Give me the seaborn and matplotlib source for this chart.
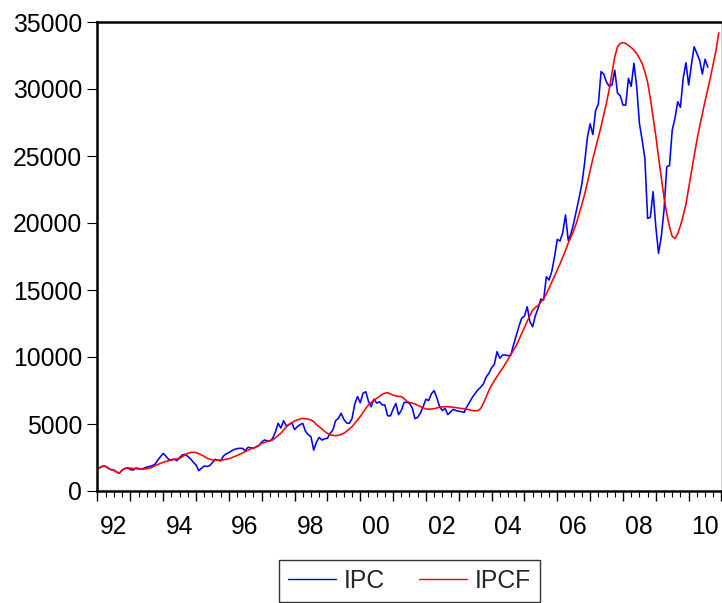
import numpy as np
import pandas as pd
import matplotlib
matplotlib.use("Agg")
import matplotlib.pyplot as plt
import matplotlib.ticker as mticker
from matplotlib.transforms import ScaledTranslation
import seaborn as sns

# ---- data (monthly, starting 1992M01) ----
start_year = 1992
ipc = [
    # 1992
    1640, 1760, 1860, 1840, 1700, 1590, 1550, 1420, 1320, 1560, 1680, 1740,
    # 1993
    1600, 1560, 1720, 1680, 1620, 1700, 1780, 1830, 1890, 2000, 2300, 2560,
    # 1994
    2810, 2600, 2350, 2330, 2380, 2260, 2500, 2690, 2740, 2580, 2400, 2150,
    # 1995
    1940, 1520, 1700, 1870, 1830, 1900, 2120, 2360, 2300, 2250, 2600, 2770,
    # 1996
    2860, 3000, 3100, 3160, 3190, 3180, 3010, 3260, 3220, 3190, 3300, 3400,
    # 1997
    3650, 3810, 3750, 3710, 3930, 4400, 5050, 4700, 5250, 4850, 4950, 5100,
    # 1998
    4580, 4800, 4950, 5050, 4450, 4200, 4050, 3050, 3650, 4000, 3800, 3900,
    # 1999
    3930, 4300, 4550, 5250, 5420, 5800, 5350, 5080, 5050, 5400, 6500, 7050,
    # 2000
    6580, 7290, 7410, 6700, 6290, 6850, 6560, 6660, 6430, 6420, 5620, 5600,
    # 2001
    6100, 6540, 5700, 6000, 6600, 6620, 6540, 6200, 5400, 5500, 5820, 6300,
    # 2002
    6850, 6750, 7250, 7490, 6950, 6300, 6000, 6170, 5700, 5900, 6100, 6000,
    # 2003
    5950, 5920, 5870, 6300, 6650, 7000, 7290, 7550, 7740, 7990, 8500, 8780,
    # 2004
    9200, 9450, 10400, 9900, 10150, 10150, 10100, 10150, 10900, 11600, 12300, 12900,
    # 2005
    13060, 13750, 12630, 12260, 13100, 13630, 14330, 14250, 15990, 15750, 16400, 17500,
    # 2006
    18780, 18650, 19300, 20600, 18700, 19200, 20000, 20950, 21900, 22950, 24500, 26400,
    # 2007
    27400, 26600, 28400, 28880, 31300, 31100, 30500, 30200, 30300, 31400, 29700, 29500,
    # 2008
    28800, 28800, 30800, 30200, 31920, 30200, 27450, 26200, 24830, 20350, 20420, 22340,
    # 2009
    19720, 17740, 18980, 20970, 24200, 24280, 26940, 27810, 29050, 28630, 30800, 31960,
    # 2010
    30300, 31790, 33160, 32660, 32160, 31120, 32220, 31620,
]

ipcf = [
    # 1992
    1640, 1760, 1860, 1840, 1700, 1590, 1550, 1420, 1320, 1560, 1680, 1740,
    # 1993
    1700, 1680, 1660, 1640, 1620, 1640, 1670, 1700, 1780, 1880, 1980, 2060,
    # 1994
    2140, 2200, 2260, 2310, 2360, 2400, 2440, 2560, 2700, 2800, 2880, 2890,
    # 1995
    2870, 2780, 2690, 2580, 2450, 2380, 2320, 2300, 2300, 2310, 2330, 2370,
    # 1996
    2410, 2480, 2570, 2650, 2740, 2840, 2940, 3040, 3140, 3200, 3300, 3400,
    # 1997
    3560, 3620, 3700, 3760, 3810, 3980, 4150, 4310, 4550, 4780, 4980, 5100,
    # 1998
    5220, 5300, 5370, 5420, 5400, 5360, 5300, 5180, 4950, 4800, 4620, 4450,
    # 1999
    4300, 4200, 4150, 4130, 4160, 4220, 4310, 4450, 4620, 4800, 5050, 5300,
    # 2000
    5550, 5850, 6150, 6420, 6600, 6780, 6910, 7050, 7200, 7300, 7340, 7250,
    # 2001
    7160, 7100, 7060, 7040, 6900, 6700, 6600, 6560, 6500, 6400, 6300, 6200,
    # 2002
    6120, 6110, 6120, 6140, 6200, 6250, 6280, 6290, 6290, 6270, 6250, 6220,
    # 2003
    6190, 6160, 6130, 6100, 6050, 6000, 5990, 6000, 6150, 6550, 7000, 7500,
    # 2004
    7900, 8220, 8530, 8870, 9150, 9480, 9800, 10150, 10520, 10850, 11300, 11750,
    # 2005
    12200, 12650, 13100, 13500, 13700, 13830, 14100, 14350, 14700, 15150, 15600, 16050,
    # 2006
    16500, 16950, 17450, 17950, 18500, 18950, 19450, 20000, 20700, 21400, 22150, 23000,
    # 2007
    23900, 24800, 25600, 26400, 27200, 28100, 29000, 30000, 31200, 32400, 33150, 33400,
    # 2008
    33460, 33400, 33250, 33100, 32900, 32650, 32300, 31900, 31300, 30500, 29300, 27900,
    # 2009
    26500, 24900, 23400, 21900, 20700, 19700, 19000, 18850, 19200, 19800, 20550, 21400,
    # 2010
    22600, 23800, 25000, 26150, 27200, 28150, 29100, 30000, 30900, 31900, 32900, 34200,
]

y_ticks = [0, 5000, 10000, 15000, 20000, 25000, 30000, 35000]
x_label_years = list(range(1992, 2011, 2))

# ---- build long table ----
df = pd.concat([
    pd.DataFrame({"t": start_year + np.arange(len(ipc)) / 12.0, "value": ipc, "series": "IPC"}),
    pd.DataFrame({"t": start_year + np.arange(len(ipcf)) / 12.0, "value": ipcf, "series": "IPCF"}),
], ignore_index=True)

sns.set_style("white")
plt.rcParams["font.family"] = ["Liberation Sans", "DejaVu Sans"]

FS = 17.8

fig = plt.figure(figsize=(7.22, 6.03), dpi=100)
ax = fig.add_axes([97.5 / 722, 1 - 491 / 603, (721.5 - 97.5) / 722, (491 - 22) / 603])

sns.lineplot(data=df, x="t", y="value", hue="series",
             palette={"IPC": "#0000FF", "IPCF": "#FF0000"},
             linewidth=1.15, ax=ax, legend=True, estimator=None, sort=False)

ax.set_xlim(1992, 2011)
ax.set_ylim(0, 35000)
ax.set_xlabel("")
ax.set_ylabel("")

# spines
for side in ["left", "bottom", "top", "right"]:
    ax.spines[side].set_color("black")
    ax.spines[side].set_linewidth(1.8)
ax.spines["right"].set_linewidth(1.0)

# y ticks
ax.set_yticks(y_ticks)
ax.yaxis.set_major_formatter(mticker.FuncFormatter(lambda v, p: f"{int(v)}"))
ax.tick_params(axis="y", which="major", direction="out", length=7.5, width=0.8,
               pad=3.5, labelsize=FS, colors="black", left=True, right=False)

# x ticks: yearly major, quarterly minor
ax.xaxis.set_major_locator(mticker.MultipleLocator(1))
ax.xaxis.set_minor_locator(mticker.MultipleLocator(0.25))

def xfmt(v, p):
    y = int(round(v))
    return f"{y % 100:02d}" if y in x_label_years else ""

ax.xaxis.set_major_formatter(mticker.FuncFormatter(xfmt))
ax.tick_params(axis="x", which="major", direction="out", length=7, width=1.0,
               pad=10, labelsize=FS, colors="black", bottom=True, top=False)
ax.tick_params(axis="x", which="minor", direction="out", length=4, width=0.8,
               colors="black", bottom=True, top=False)

offset = ScaledTranslation(16 / 100, 0, fig.dpi_scale_trans)
for lab in ax.get_xticklabels():
    lab.set_transform(lab.get_transform() + offset)

# legend
handles, labels = ax.get_legend_handles_labels()
leg = ax.legend(handles, labels, loc="center", bbox_to_anchor=(0.5, (491 - 581) / 469),
                ncol=2, frameon=True, fancybox=False, fontsize=FS,
                handlelength=1.95, handletextpad=0.3, columnspacing=1.4,
                borderpad=0.35, borderaxespad=0)
leg.get_frame().set_edgecolor("black")
leg.get_frame().set_linewidth(1.0)
for line in leg.get_lines():
    line.set_linewidth(1.0)

fig.savefig("out.png", dpi=100)
